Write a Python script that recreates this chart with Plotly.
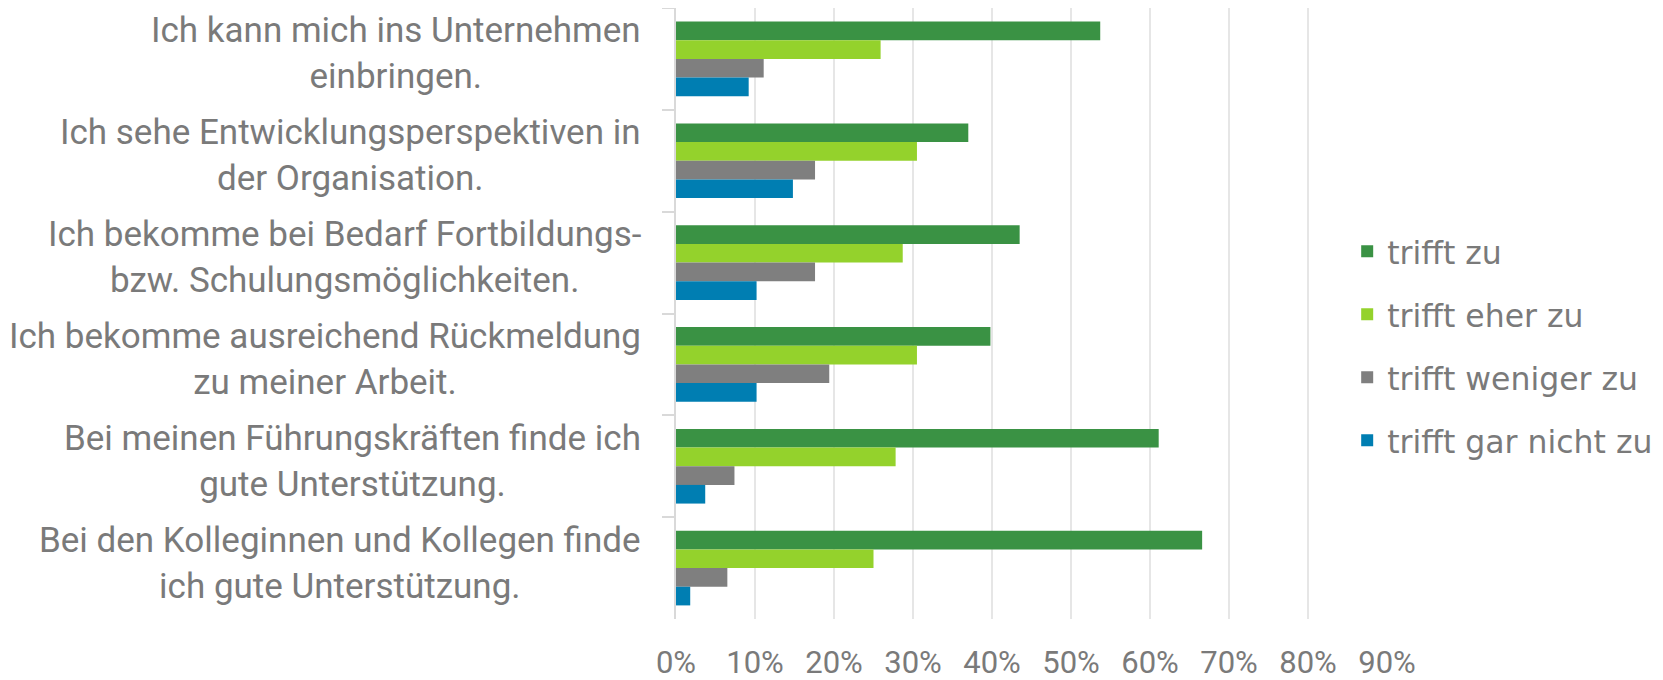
import plotly.graph_objects as go

categories = [
    "Ich kann mich ins Unternehmen<br>einbringen.",
    "Ich sehe Entwicklungsperspektiven in<br>der Organisation.",
    "Ich bekomme bei Bedarf Fortbildungs-<br>bzw. Schulungsmöglichkeiten.",
    "Ich bekomme ausreichend Rückmeldung<br>zu meiner Arbeit.",
    "Bei meinen Führungskräften finde ich<br>gute Unterstützung.",
    "Bei den Kolleginnen und Kollegen finde<br>ich gute Unterstützung.",
]
series_names = ["trifft zu", "trifft eher zu", "trifft weniger zu", "trifft gar nicht zu"]
trifft_zu = [53.7, 37.0, 43.5, 39.8, 61.1, 66.6]
trifft_eher_zu = [25.9, 30.5, 28.7, 30.5, 27.8, 25.0]
trifft_weniger_zu = [11.1, 17.6, 17.6, 19.4, 7.4, 6.5]
trifft_gar_nicht_zu = [9.2, 14.8, 10.2, 10.2, 3.7, 1.8]
tick_values = [0, 10, 20, 30, 40, 50, 60, 70, 80, 90]
tick_labels = ["0%", "10%", "20%", "30%", "40%", "50%", "60%", "70%", "80%", "90%"]

colors = ["#3A9244", "#94D22C", "#7F7F7F", "#007EB2"]
all_values = [trifft_zu, trifft_eher_zu, trifft_weniger_zu, trifft_gar_nicht_zu]

fig = go.Figure()
for name, vals, col in zip(series_names, all_values, colors):
    fig.add_trace(go.Bar(
        y=categories, x=vals, name=name, orientation="h",
        marker=dict(color=col, line=dict(width=0)),
        legendgroup=name,
    ))

for cat in categories:
    fig.add_annotation(
        x=-0.046, xref="paper", y=cat, yref="y", yshift=5,
        text=cat, showarrow=False, xanchor="right", yanchor="middle",
        align="center", font=dict(family="Roboto", size=35, color="#7A7A7A"),
    )

# the page adds an 8px body margin, so the figure is sized to fit the window
fig.update_layout(
    width=1655, height=672,
    margin=dict(l=668, r=276, t=0, b=61, autoexpand=False),
    plot_bgcolor="white", paper_bgcolor="white",
    barmode="group", bargap=0.267, bargroupgap=0,
    showlegend=True,
    legend=dict(
        x=0.944, xanchor="left", y=0.447, yanchor="middle",
        bgcolor="rgba(0,0,0,0)",
        font=dict(family="DejaVu Sans", size=31.5, color="#7A7A7A"),
        tracegroupgap=19,
    ),
    xaxis=dict(
        range=[0, 90], tickvals=tick_values, ticktext=tick_labels,
        showgrid=True, gridcolor="#E6E6E6", gridwidth=2,
        zeroline=False, showline=False, automargin=False,
        ticks="", ticklabelstandoff=22,
        tickfont=dict(family="Roboto", size=31, color="#7A7A7A"),
    ),
    yaxis=dict(
        autorange="reversed", showticklabels=False, automargin=False,
        tickson="boundaries", ticks="outside", ticklen=12,
        tickcolor="#D9D9D9", tickwidth=2,
        showline=True, linecolor="#D9D9D9", linewidth=2,
        showgrid=False, zeroline=False,
    ),
)

fig.write_html("out.html")
